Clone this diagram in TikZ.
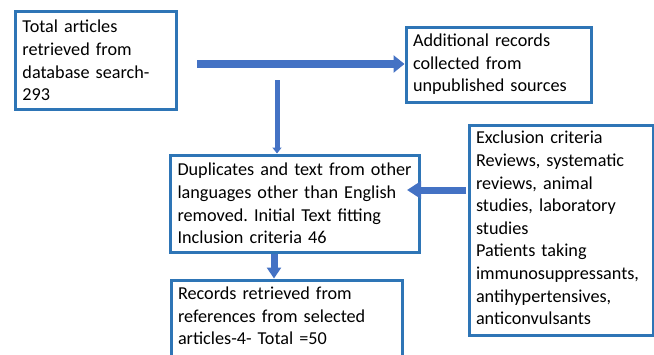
\documentclass[tikz,border=0pt]{standalone}
\usepackage{fontspec}
\setmainfont{Carlito}
\usetikzlibrary{positioning,arrows.meta}
\definecolor{boxblue}{RGB}{46,117,182}
\definecolor{arrowblue}{RGB}{68,114,196}
\frenchspacing

\begin{document}
\begin{tikzpicture}[x=1pt,y=-1pt,
    box/.style={draw=boxblue, line width=3pt, fill=white, anchor=north west,
        align=left, inner xsep=7pt, inner ysep=0pt,
        font=\fontsize{18.2}{22.6}\selectfont},
    block arrow/.style={arrowblue, line width=8pt, -{Triangle[width=17pt,length=11pt]}},
    thin arrow/.style={arrowblue, line width=5pt, -{Triangle[width=9pt,length=6pt]}}]
    \useasboundingbox (0,0) rectangle (654,354);
    \clip (0,0) rectangle (654,354);
    %%%%% THE BOXES
    \node[box, text width=147pt, minimum height=98pt] (TOTAL) at (14,10)
        {Total articles\\retrieved from\\database search-\\293};
    \node[box, text width=171pt, minimum height=75pt] (EXTRA) at (404.5,25.5)
        {Additional records\\collected from\\unpublished sources};
    \node[box, text width=235pt, minimum height=97pt] (DUPL) at (169,153.5)
        {Duplicates and text from other\\languages other than English\\removed. Initial Text fitting\\Inclusion criteria 46};
    \node[box, text width=170pt, minimum height=210pt] (EXCL) at (467.5,123.5)
        {Exclusion criteria\\Reviews, systematic\\reviews, animal\\studies, laboratory\\studies\\Patients taking\\immunosuppressants,\\antihypertensives,\\anticonvulsants\rule[-4pt]{0pt}{4pt}};
    \node[box, text width=217pt, minimum height=78pt] (RECS) at (169.5,278.5)
        {Records retrieved from\\references from selected\\articles-4- Total =50\rule[-6pt]{0pt}{6pt}};
    %%%%% THE ARROWS
    \coordinate (HSTART) at (197,64);
    \coordinate (VSTART) at (277,80);
    \coordinate (ESTART) at (466,190);
    \draw[block arrow] (HSTART) -- (HSTART -| EXTRA.west);
    \draw[thin arrow] (VSTART) -- (VSTART |- DUPL.north);
    \draw[block arrow, line width=7pt, -{Triangle[width=17pt,length=14pt]}]
        (ESTART) -- ([xshift=-14pt]ESTART -| DUPL.east);
    \draw[block arrow, line width=7pt, -{Triangle[width=14pt,length=11pt]}]
        ([xshift=105pt]DUPL.south west) -- ([xshift=104.5pt]RECS.north west);
\end{tikzpicture}
\end{document}
